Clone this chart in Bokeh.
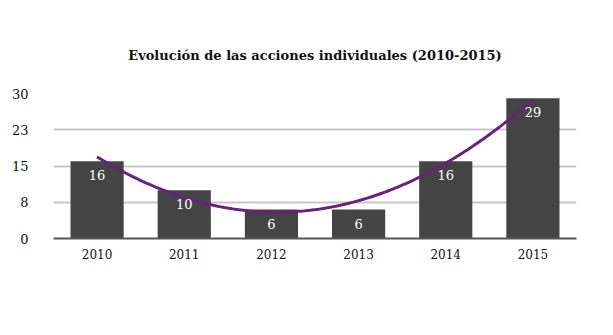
import numpy as np
from bokeh.plotting import figure
from bokeh.models import Range1d, FixedTicker, ColumnDataSource
from bokeh.embed import file_html
from bokeh.resources import INLINE

years = ["2010", "2011", "2012", "2013", "2014", "2015"]
values = [16, 10, 6, 6, 16, 29]
y_ticks = [0, 7.5, 15, 22.5, 30]
y_tick_labels = ["0", "8", "15", "23", "30"]
title_text = "Evolución de las acciones individuales (2010-2015)"

xs = list(range(len(years)))
src = ColumnDataSource(dict(x=xs, top=values, label=[str(v) for v in values]))

p = figure(width=613, height=335, output_backend="svg", toolbar_location=None,
           x_range=Range1d(-0.5, len(years) - 0.5), y_range=Range1d(0, 30),
           min_border_left=53, min_border_right=37, min_border_top=93, min_border_bottom=97)
p.background_fill_color = "white"
p.border_fill_color = "white"
p.outline_line_color = None

p.title.text = title_text
p.title.align = "center"
p.title.text_font = "DejaVu Serif"
p.title.text_font_size = "13px"
p.title.text_font_style = "bold"
p.title.text_color = "#111111"
p.title.standoff = 61
p.title.offset = 0

p.vbar(x="x", top="top", width=0.61, bottom=0, source=src, fill_color="#444444", line_color=None)

# quadratic trendline fitted to the data
coef = np.polyfit(xs, values, 2)
tx = np.linspace(0, len(years) - 1, 200)
p.line(tx, np.polyval(coef, tx), line_color="#66237a", line_width=3)

p.text(x="x", y="top", text="label", source=src, text_align="center", text_baseline="middle",
       y_offset=14, text_color="white", text_font_size="13px", text_font={"value": "DejaVu Serif"})

p.xgrid.grid_line_color = None
p.ygrid.grid_line_color = "#c8c8c8"
p.ygrid.grid_line_width = 2
p.ygrid.ticker = FixedTicker(ticks=y_ticks)

p.yaxis.ticker = FixedTicker(ticks=y_ticks)
p.yaxis.major_label_overrides = {t: l for t, l in zip(y_ticks, y_tick_labels)}
p.yaxis.axis_line_color = None
p.yaxis.major_tick_line_color = None
p.yaxis.minor_tick_line_color = None
p.yaxis.major_label_standoff = 19
p.yaxis.major_label_text_font = "DejaVu Serif"
p.yaxis.major_label_text_font_size = "13px"
p.yaxis.major_label_text_color = "#111111"

p.xaxis.ticker = FixedTicker(ticks=xs)
p.xaxis.major_label_overrides = {i: y for i, y in zip(xs, years)}
p.xaxis.axis_line_color = "#555555"
p.xaxis.axis_line_width = 2
p.xaxis.major_tick_line_color = None
p.xaxis.minor_tick_line_color = None
p.xaxis.major_label_standoff = 4
p.xaxis.major_label_text_font = "DejaVu Serif"
p.xaxis.major_label_text_font_size = "12px"
p.xaxis.major_label_text_color = "#111111"

open("out.html", "w").write(file_html(p, INLINE))
